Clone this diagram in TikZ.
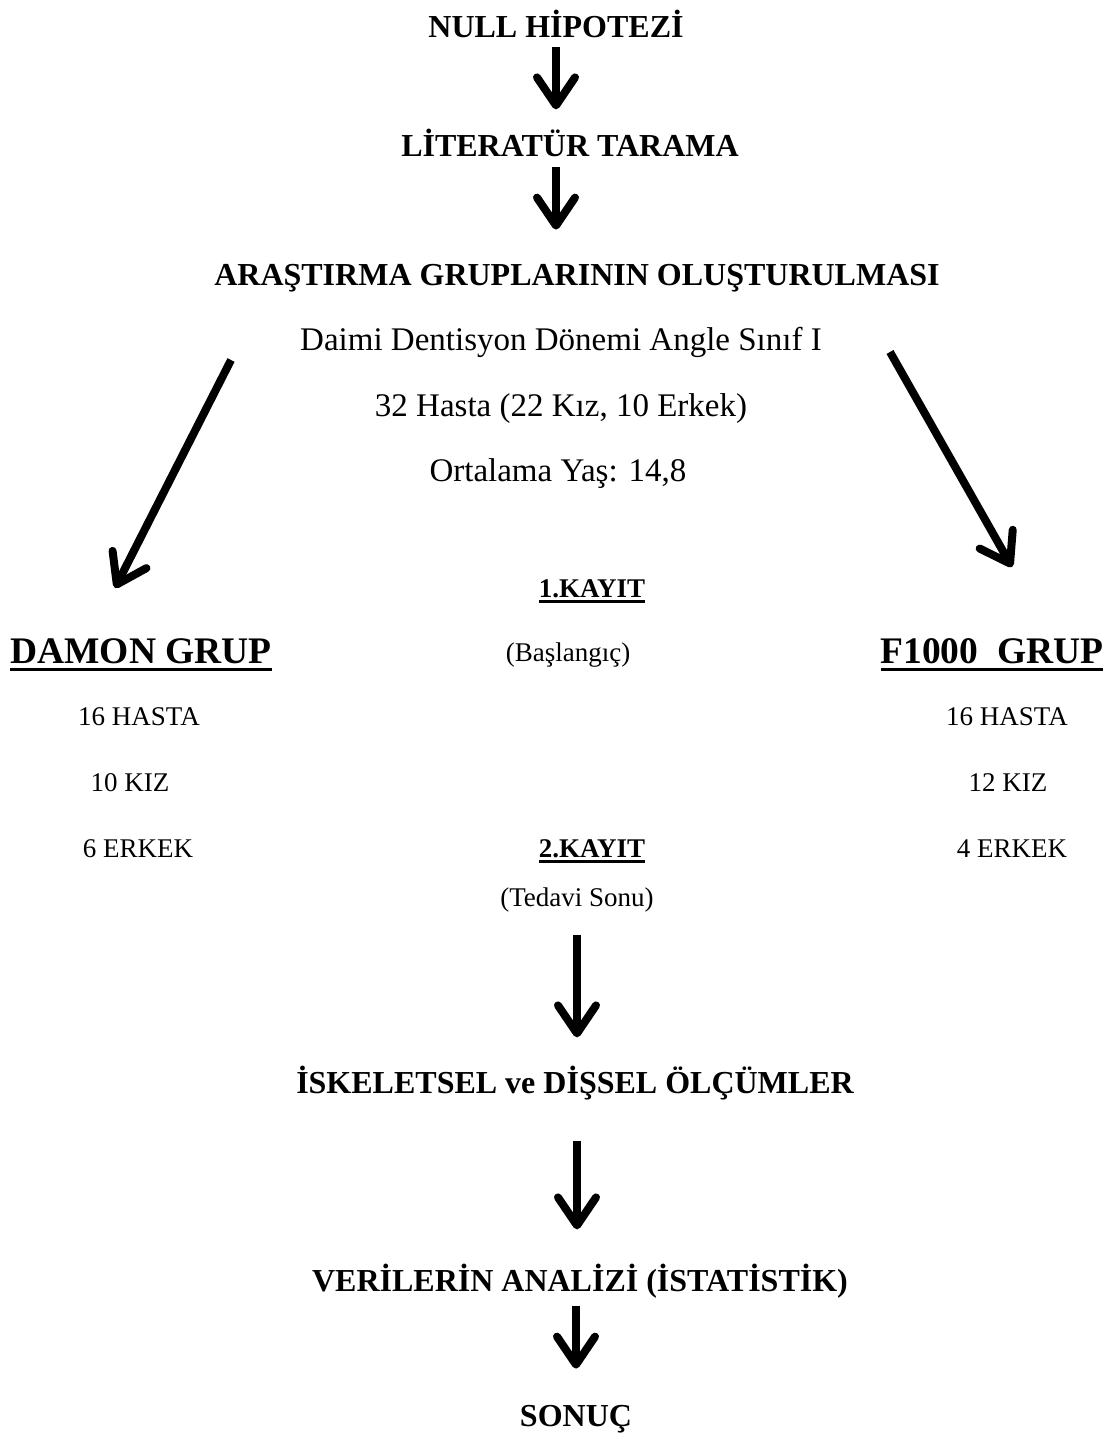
\documentclass[tikz,border=0pt]{standalone}
\usepackage{fontspec}
\setmainfont{Liberation Serif}
\usepackage{tikz}
\usetikzlibrary{
    positioning,                      % right=of, below=of
    arrows.meta                       % Straight Barb
}
% kalin alt cizgi
\newcommand{\altciz}[1]{\setbox0\hbox{#1}\rlap{\vrule width \wd0 height -0.12em depth 0.21em}\box0}
\tikzset{
    baslik/.style={
        font=\fontsize{32}{38}\selectfont\bfseries,
        anchor=base, inner sep=0pt
    },
    metin/.style={
        font=\fontsize{33}{40}\selectfont,
        anchor=base, inner sep=0pt
    },
    kucuk/.style={
        font=\fontsize{27}{32}\selectfont,
        anchor=base, inner sep=0pt
    },
    kayit/.style={
        kucuk, font=\fontsize{27}{32}\selectfont\bfseries
    },
    grup/.style={
        font=\fontsize{37.5}{45}\selectfont\bfseries,
        anchor=base, inner sep=0pt
    },
    akis/.style={
        line width=8pt,
        -{Straight Barb[length=28pt,width=38pt,round]},
        preaction={draw=gray!55, transform canvas={shift={(2.5pt,-2.5pt)}}}
    }
}

\begin{document}
\begin{tikzpicture}[x=1pt, y=-1pt]
    \useasboundingbox (0,0) rectangle (1112,1449);
    % ana sutun
    \node[baslik] (null) at (556,37)   {NULL HİPOTEZİ};
    \node[baslik] (lit)  at (570,156)  {LİTERATÜR TARAMA};
    \node[baslik] (ars)  at (577,285)  {ARAŞTIRMA GRUPLARININ OLUŞTURULMASI};
    \node[metin]  (dai)  at (561,350)  {Daimi Dentisyon Dönemi Angle Sınıf I};
    \node[metin]  (has)  at (561,416)  {32 Hasta (22 Kız, 10 Erkek)};
    \node[metin]  (ort)  at (558,481)  {Ortalama Yaş: 14,8};
    \node[kayit]  (k1)   at (592,597)  {\altciz{1.KAYIT}};
    \node[kucuk]  (bas)  at (568,661)  {(Başlangıç)};
    \node[kayit]  (k2)   at (592,857)  {\altciz{2.KAYIT}};
    \node[kucuk]  (ted)  at (577,906)  {(Tedavi Sonu)};
    \node[baslik] (isk)  at (575,1093) {İSKELETSEL ve DİŞSEL ÖLÇÜMLER};
    \node[baslik] (ver)  at (580,1291) {VERİLERİN ANALİZİ (İSTATİSTİK)};
    \node[baslik] (son)  at (576,1426) {SONUÇ};
    % gruplar
    \node[grup]  (damon) at (141,663) {\altciz{DAMON GRUP}};
    \node[kucuk] (dh)    at (139,725) {16 HASTA};
    \node[kucuk] (dk)    at (130,791) {10 KIZ};
    \node[kucuk] (de)    at (138,857) {6 ERKEK};
    \node[grup]  (fbin)  at (992,663) {\altciz{F1000\ \ GRUP}};
    \node[kucuk] (fh)    at (1007,725) {16 HASTA};
    \node[kucuk] (fk)    at (1008,791) {12 KIZ};
    \node[kucuk] (fe)    at (1012,857) {4 ERKEK};
    \coordinate (solust) at (231,360);
    \coordinate (solalt) at (115,588);
    \coordinate (sagust) at (890,352);
    \coordinate (sagalt) at (1012,567);
    % oklar
    \draw[akis, shorten <=9pt, shorten >=19pt] (null.south) -- (null.south |- lit.north);
    \draw[akis, shorten <=10pt, shorten >=34pt] ([xshift=-14pt]lit.south) -- ([xshift=-14pt]lit.south |- ars.north);
    \draw[akis] (solust) -- (solalt);
    \draw[akis] (sagust) -- (sagalt);
    \draw[akis, shorten <=23pt, shorten >=28pt] (ted.south) -- (ted.south |- isk.north);
    \draw[akis, shorten <=41pt, shorten >=34pt] ([xshift=2pt]isk.south) -- ([xshift=2pt]isk.south |- ver.north);
    \draw[akis, shorten <=8pt, shorten >=36pt] (son.north |- ver.south) -- (son.north);
\end{tikzpicture}
\end{document}
